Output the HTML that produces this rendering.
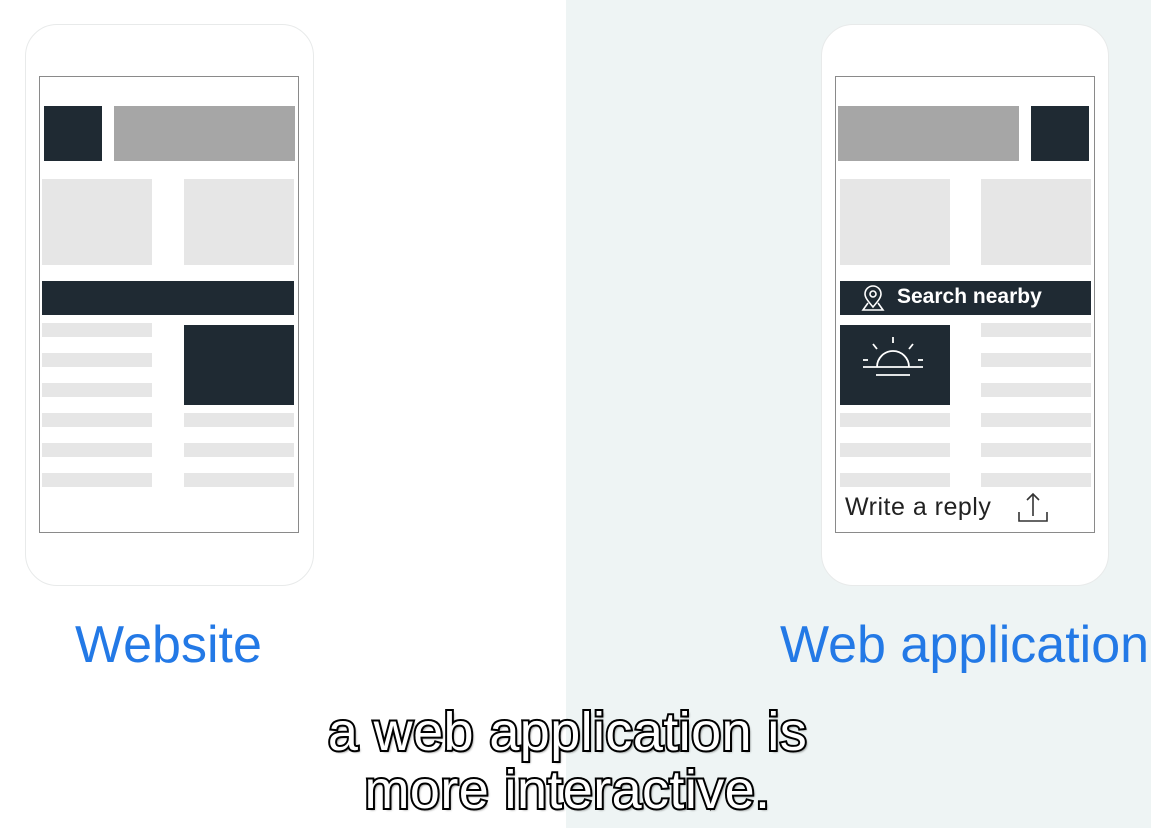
<!DOCTYPE html>
<html><head><meta charset="utf-8"><style>
*{margin:0;padding:0;box-sizing:border-box}
body{width:1151px;height:828px;position:relative;overflow:hidden;background:#fff;font-family:"Liberation Sans",sans-serif}
.a{position:absolute}
.ph{position:absolute;border:1.5px solid #e8eaea;border-radius:32px;background:#fff}
.sc{position:absolute;border:1.5px solid #8a8a8a;background:#fff}
.d{position:absolute;background:#1f2a33}
.g{position:absolute;background:#a6a6a6}
.l{position:absolute;background:#e6e6e6}
.lbl{position:absolute;color:#2379e6;font-size:52px;line-height:1;white-space:nowrap}
.sub{position:absolute;left:-8px;width:1151px;text-align:center;font-size:54px;letter-spacing:0.4px;line-height:58px;color:#fff;-webkit-text-stroke:4px #000;paint-order:stroke fill;text-shadow:2px 2px 2px rgba(0,0,0,.5)}
</style></head><body>
<div class="a" style="left:566px;top:0;width:585px;height:828px;background:#eef4f4"></div>

<div class="ph" style="left:25px;top:24px;width:289px;height:562px"></div>
<div class="sc" style="left:39px;top:76px;width:260px;height:457px"></div>
<div class="d" style="left:44px;top:106px;width:58px;height:55px"></div>
<div class="g" style="left:114px;top:106px;width:181px;height:55px"></div>
<div class="l" style="left:42px;top:179px;width:110px;height:86px"></div>
<div class="l" style="left:184px;top:179px;width:110px;height:86px"></div>
<div class="d" style="left:42px;top:281px;width:252px;height:34px"></div>
<div class="l" style="left:42px;top:323px;width:110px;height:14px"></div>
<div class="l" style="left:42px;top:353px;width:110px;height:14px"></div>
<div class="l" style="left:42px;top:383px;width:110px;height:14px"></div>
<div class="l" style="left:42px;top:413px;width:110px;height:14px"></div>
<div class="l" style="left:42px;top:443px;width:110px;height:14px"></div>
<div class="l" style="left:42px;top:473px;width:110px;height:14px"></div>
<div class="d" style="left:184px;top:325px;width:110px;height:80px"></div>
<div class="l" style="left:184px;top:413px;width:110px;height:14px"></div>
<div class="l" style="left:184px;top:443px;width:110px;height:14px"></div>
<div class="l" style="left:184px;top:473px;width:110px;height:14px"></div>

<div class="ph" style="left:821px;top:24px;width:288px;height:562px"></div>
<div class="sc" style="left:835px;top:76px;width:260px;height:457px"></div>
<div class="g" style="left:838px;top:106px;width:181px;height:55px"></div>
<div class="d" style="left:1031px;top:106px;width:58px;height:55px"></div>
<div class="l" style="left:840px;top:179px;width:110px;height:86px"></div>
<div class="l" style="left:981px;top:179px;width:110px;height:86px"></div>
<div class="d" style="left:840px;top:281px;width:251px;height:34px"></div>
<svg class="a" style="left:858px;top:283px" width="30" height="30" viewBox="0 0 30 30" fill="none" stroke="#fff" stroke-width="1.6"><path d="M15 24 C9 17 7 14 7 11 A8 8 0 0 1 23 11 C23 14 21 17 15 24Z"/><circle cx="15" cy="11" r="3"/><path d="M10 20 L5 27 H25 L20 20"/></svg>
<div class="a" style="left:897px;top:284px;color:#fff;font-size:21px;font-weight:bold;line-height:26px">Search nearby</div>
<div class="d" style="left:840px;top:325px;width:110px;height:80px"></div>
<svg class="a" style="left:860px;top:335px" width="70" height="50" viewBox="0 0 70 50" fill="none" stroke="#fff" stroke-width="1.8"><path d="M17 32 A16 16 0 0 1 49 32"/><line x1="3" y1="32" x2="63" y2="32"/><line x1="16" y1="40" x2="50" y2="40"/><line x1="33" y1="2" x2="33" y2="8"/><line x1="13" y1="9" x2="17" y2="14"/><line x1="53" y1="9" x2="49" y2="14"/><line x1="3" y1="25" x2="8" y2="25"/><line x1="58" y1="25" x2="63" y2="25"/></svg>
<div class="l" style="left:981px;top:323px;width:110px;height:14px"></div>
<div class="l" style="left:981px;top:353px;width:110px;height:14px"></div>
<div class="l" style="left:981px;top:383px;width:110px;height:14px"></div>
<div class="l" style="left:981px;top:413px;width:110px;height:14px"></div>
<div class="l" style="left:981px;top:443px;width:110px;height:14px"></div>
<div class="l" style="left:981px;top:473px;width:110px;height:14px"></div>
<div class="l" style="left:840px;top:413px;width:110px;height:14px"></div>
<div class="l" style="left:840px;top:443px;width:110px;height:14px"></div>
<div class="l" style="left:840px;top:473px;width:110px;height:14px"></div>
<div class="a" style="left:845px;top:492px;color:#222;font-size:25px;line-height:30px;letter-spacing:0.5px">Write a reply</div>
<svg class="a" style="left:1016px;top:490px" width="34" height="34" viewBox="0 0 34 34" fill="none" stroke="#333" stroke-width="1.6"><path d="M3 22 V31 H31 V22"/><line x1="17" y1="4" x2="17" y2="26"/><path d="M11 10 L17 4 L23 10"/></svg>

<div class="lbl" style="left:75px;top:619px">Website</div>
<div class="lbl" style="left:780px;top:619px">Web application</div>

<div class="sub" style="top:703px">a web application is<br>more interactive.</div>
</body></html>
